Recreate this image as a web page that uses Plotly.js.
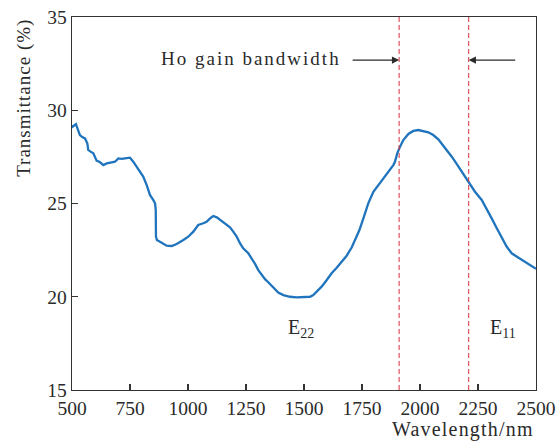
<!DOCTYPE html>
<html>
<head>
<meta charset="utf-8">
<script src="https://cdn.plot.ly/plotly-3.0.1.min.js"></script>
<style>html,body{margin:0;padding:0;background:#fff;}#chart{width:558px;height:444px;}</style>
</head>
<body>
<div id="chart"></div>
<script>
const wavelength = [500,503,517,523,534,546,556,566,570,580,592,606,621,635,650,671,685,700,714,728,743,750,764,779,793,807,822,836,850,858,861,862,866,872,887,908,930,951,980,1001,1023,1044,1066,1080,1095,1109,1124,1138,1159,1181,1195,1210,1224,1238,1260,1275,1289,1303,1318,1332,1346,1361,1375,1389,1411,1440,1468,1497,1526,1540,1555,1576,1598,1619,1641,1662,1684,1706,1727,1738,1756,1777,1799,1820,1842,1856,1871,1885,1892,1902,1914,1928,1950,1971,1993,2014,2036,2057,2079,2097,2115,2137,2158,2180,2201,2216,2237,2266,2287,2309,2331,2352,2374,2395,2417,2445,2474,2500];
const transmittance = [29.2,29.12,29.26,29.03,28.67,28.55,28.49,28.23,27.87,27.78,27.69,27.3,27.21,27.06,27.15,27.21,27.24,27.42,27.39,27.42,27.42,27.46,27.24,26.97,26.71,26.44,25.99,25.46,25.19,25.01,24.65,23.22,23.05,23.0,22.87,22.74,22.72,22.83,23.04,23.22,23.49,23.85,23.94,24.02,24.2,24.33,24.26,24.12,23.94,23.72,23.49,23.22,22.87,22.6,22.33,22.06,21.76,21.43,21.17,20.94,20.78,20.6,20.38,20.22,20.09,20.0,19.97,20.0,20.0,20.09,20.27,20.54,20.9,21.26,21.55,21.85,22.2,22.65,23.22,23.55,24.2,25.01,25.63,25.99,26.35,26.57,26.8,27.06,27.24,27.69,28.05,28.4,28.73,28.89,28.94,28.9,28.82,28.67,28.44,28.15,27.87,27.51,27.12,26.71,26.3,25.99,25.63,25.19,24.74,24.2,23.67,23.19,22.68,22.33,22.15,21.93,21.7,21.5];
const bandEdges = [1910, 2210];
const xTicks = [500,750,1000,1250,1500,1750,2000,2250,2500];
const yTicks = [15,20,25,30,35];
const labels = {
  band: "Ho gain bandwidth",
  e22: "E<sub>22</sub>",
  e11: "E<sub>11</sub>",
  xTitle: "Wavelength/nm",
  yTitle: "Transmittance (%)"
};

const font = "Liberation Serif, Times New Roman, serif";
const ink = "#2a2a2a";
const spaced = (t, px) => '<span style="letter-spacing:' + px + 'px">' + t + '</span>';

const traces = [{
  x: wavelength, y: transmittance, type: "scatter", mode: "lines",
  line: {color: "#1f74bd", width: 2.3}, hoverinfo: "skip"
}];

const shapes = bandEdges.map(v => ({
  type: "line", xref: "x", yref: "paper", x0: v, x1: v, y0: 0, y1: 1,
  line: {color: "#d8303a", width: 1, dash: "5px,3px"}
}));

const annotations = [
  {xref: "x", yref: "y", x: 1270, y: 32.8, text: spaced(labels.band, 2), showarrow: false,
   font: {family: font, size: 19, color: ink}},
  {xref: "x", yref: "y", x: bandEdges[0], y: 32.69, ax: -48, ay: 0, text: "", showarrow: true,
   arrowhead: 2, arrowsize: 1.2, arrowwidth: 1.2, arrowcolor: ink},
  {xref: "x", yref: "y", x: bandEdges[1], y: 32.69, ax: 48, ay: 0, text: "", showarrow: true,
   arrowhead: 2, arrowsize: 1.2, arrowwidth: 1.2, arrowcolor: ink},
  {xref: "x", yref: "y", x: 1487, y: 18.3, text: labels.e22, showarrow: false,
   font: {family: font, size: 20, color: ink}},
  {xref: "x", yref: "y", x: 2358, y: 18.3, text: labels.e11, showarrow: false,
   font: {family: font, size: 20, color: ink}},
  {xref: "paper", yref: "paper", x: 1, xanchor: "right", y: -0.07, yanchor: "top",
   text: spaced(labels.xTitle, 1.2), showarrow: false, font: {family: font, size: 20, color: ink}},
  {xref: "paper", yref: "paper", x: -0.105, xanchor: "center", y: 0.784, yanchor: "middle",
   text: spaced(labels.yTitle, 1), textangle: -90, showarrow: false,
   font: {family: font, size: 19, color: ink}}
];

const axisCommon = {
  showgrid: false, zeroline: false, showline: true, mirror: true,
  linecolor: "#333333", linewidth: 1.3, ticks: "inside", ticklen: 6, tickwidth: 1.3,
  tickcolor: "#333333", tickfont: {family: font, size: 19.5, color: ink}
};

const layout = {
  width: 558, height: 444,
  margin: {l: 72, r: 22, t: 17, b: 54},
  paper_bgcolor: "#ffffff", plot_bgcolor: "#ffffff",
  showlegend: false,
  xaxis: Object.assign({}, axisCommon, {range: [500, 2500], tickvals: xTicks,
    ticktext: xTicks.map(String)}),
  yaxis: Object.assign({}, axisCommon, {range: [15, 35], tickvals: yTicks,
    ticktext: yTicks.map(String)}),
  shapes: shapes,
  annotations: annotations
};

Plotly.newPlot("chart", traces, layout, {displayModeBar: false, staticPlot: true});
</script>
</body>
</html>
